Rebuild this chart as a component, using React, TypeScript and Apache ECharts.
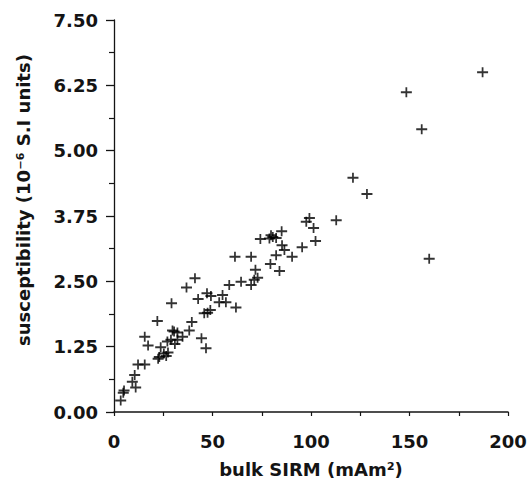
import React, { useEffect, useRef } from "react";
import * as echarts from "echarts";

// bulk SIRM (mAm²) values
const sirm: number[] = [
  3.4, 4.7, 5.1, 9.3, 10.5, 11, 12.2, 15.6, 15.6, 17.3,
  22, 23.7, 22.4, 23, 25.3, 26.5, 27.4, 27.1, 28.9, 30.9,
  32.2, 34.8, 30.5, 32.2, 29.7, 38.2, 29.2, 36.8, 41.1, 42.7,
  39.5, 44.4, 46.7, 45.8, 47.5, 48.9, 47.2, 49.2, 55.1, 53.4,
  56.8, 58.5, 61.9, 61.4, 64.5, 69.6, 71.2, 72.9, 71.8, 69.6,
  74.3, 78.9, 80.6, 82.3, 79.7, 85.1, 85.3, 86.5, 79.4, 82.3,
  84, 90.4, 95.5, 97.6, 99.2, 101.3, 102.3, 112.8, 121.3, 128.4,
  148.4, 156.2, 160, 187.1,
];
// susceptibility (10⁻⁶ S.I units) values
const susceptibility: number[] = [
  0.22, 0.37, 0.41, 0.58, 0.71, 0.47, 0.91, 0.91, 1.44, 1.27,
  1.74, 1.24, 1.02, 1.05, 1.12, 1.07, 1.14, 1.35, 1.38, 1.3,
  1.38, 1.44, 1.54, 1.52, 1.56, 1.56, 2.08, 2.38, 2.56, 2.16,
  1.72, 1.41, 1.22, 1.89, 1.9, 1.95, 2.27, 2.22, 2.24, 2.1,
  2.1, 2.43, 2.0, 2.97, 2.49, 2.43, 2.53, 2.57, 2.72, 2.97,
  3.31, 3.32, 3.35, 3.33, 3.38, 3.46, 3.19, 3.1, 2.83, 3.0,
  2.7, 2.97, 3.15, 3.64, 3.71, 3.52, 3.27, 3.67, 4.48, 4.17,
  6.12, 5.41, 2.93, 6.5,
];
const xTickLabels: number[] = [0, 50, 100, 150, 200];

const FONT = "'DejaVu Sans', sans-serif";
const INK = "#141414";
const PLUS = "path://M0,4H10V6H0Z M4.2,0H5.8V10H4.2Z";

export default function App() {
  const ref = useRef<HTMLDivElement>(null);
  useEffect(() => {
    if (!ref.current) return;
    const chart = echarts.init(ref.current, undefined, { renderer: "svg" });
    const data = sirm.map((x, i) => [x, susceptibility[i]]);
    chart.setOption({
      animation: false,
      backgroundColor: "#ffffff",
      grid: { left: 114, right: 20, top: 20, bottom: 78, outerBoundsMode: "none" },
      xAxis: {
        type: "value",
        min: 0,
        max: 200,
        interval: 25,
        splitLine: { show: false },
        axisLine: { lineStyle: { color: INK, width: 1.5 } },
        axisTick: { show: true, length: 4, lineStyle: { color: INK, width: 1.2 } },
        axisLabel: {
          customValues: xTickLabels,
          margin: 20,
          fontFamily: FONT,
          fontWeight: "bold",
          fontSize: 18,
          color: INK,
        },
        name: "bulk SIRM (mAm²)",
        nameLocation: "middle",
        nameGap: 48,
        nameTextStyle: { fontFamily: FONT, fontWeight: "bold", fontSize: 18, color: INK },
      },
      yAxis: {
        type: "value",
        min: 0,
        max: 7.5,
        interval: 1.25,
        splitLine: { show: false },
        axisLine: { show: true, lineStyle: { color: INK, width: 1.3 } },
        axisTick: { show: true, length: 8, lineStyle: { color: INK, width: 1.3 } },
        minorTick: { show: true, splitNumber: 2, length: 5, lineStyle: { color: INK, width: 1.2 } },
        axisLabel: {
          margin: 16,
          fontFamily: FONT,
          fontWeight: "bold",
          fontSize: 18,
          color: INK,
          formatter: (v: number) => v.toFixed(2),
        },
      },
      graphic: [
        {
          type: "text",
          x: 23,
          y: 200,
          rotation: Math.PI / 2,
          style: {
            text: "susceptibility (10⁻⁶ S.I units)",
            fontFamily: FONT,
            fontWeight: "bold",
            fontSize: 18,
            fill: INK,
            align: "center",
            verticalAlign: "middle",
          },
        },
      ],
      series: [
        {
          type: "scatter",
          data,
          symbol: PLUS,
          symbolSize: [11, 10],
          itemStyle: { color: "#000000" },
        },
      ],
    });
    return () => chart.dispose();
  }, []);
  return (
    <div
      ref={ref}
      style={{ position: "fixed", left: 0, top: 0, width: 528, height: 490 }}
    />
  );
}
